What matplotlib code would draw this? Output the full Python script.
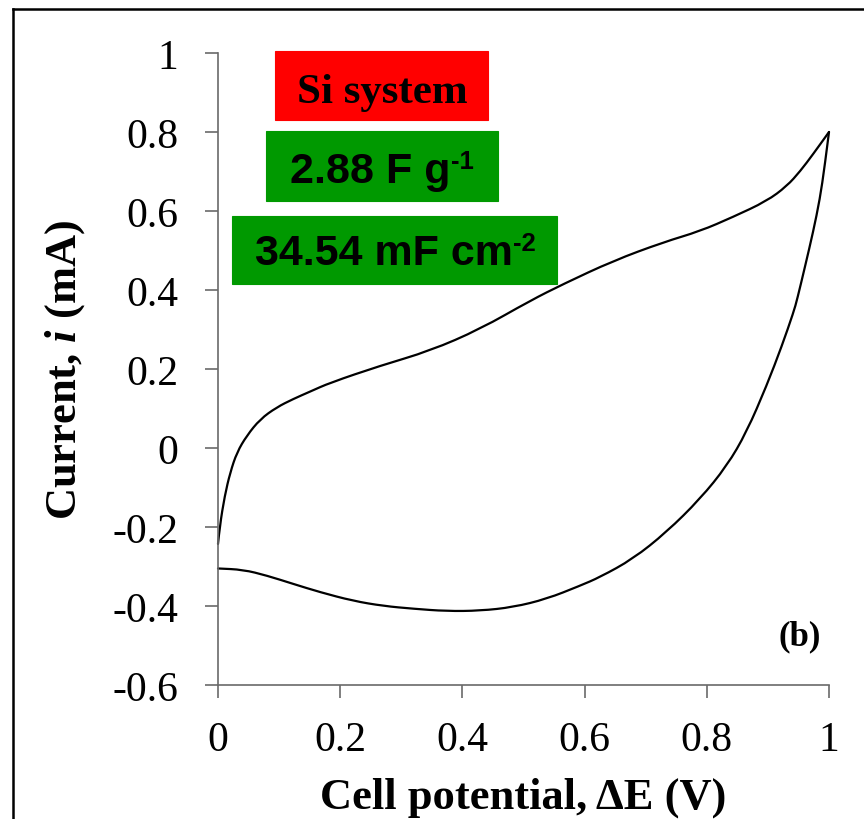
import matplotlib
matplotlib.use("Agg")
import matplotlib.pyplot as plt
from matplotlib.patches import Rectangle, PathPatch
from matplotlib.path import Path
from matplotlib.lines import Line2D

# ---- data ----
fwd_x = [0.0, 0.003, 0.011, 0.020, 0.031, 0.047, 0.069, 0.096, 0.123, 0.151,
         0.183, 0.265, 0.347, 0.429, 0.511, 0.565, 0.647, 0.729, 0.789, 0.843,
         0.898, 0.931, 0.953, 0.974, 1.0]
fwd_y = [-0.243, -0.197, -0.121, -0.062, -0.011, 0.031, 0.073, 0.103, 0.124, 0.143,
         0.165, 0.208, 0.246, 0.301, 0.373, 0.415, 0.474, 0.521, 0.549, 0.585,
         0.625, 0.663, 0.701, 0.744, 0.80]
rev_x = [1.0, 0.993, 0.985, 0.974, 0.961, 0.948, 0.942, 0.923, 0.898, 0.865,
         0.833, 0.789, 0.734, 0.679, 0.625, 0.592, 0.538, 0.483, 0.429, 0.374,
         0.320, 0.271, 0.221, 0.167, 0.123, 0.080, 0.041, 0.0]
rev_y = [0.80, 0.714, 0.630, 0.547, 0.461, 0.377, 0.344, 0.259, 0.158, 0.040,
         -0.045, -0.129, -0.213, -0.281, -0.327, -0.349, -0.382, -0.403, -0.412, -0.413,
         -0.407, -0.400, -0.387, -0.365, -0.344, -0.323, -0.308, -0.305]
x_ticks = [0, 0.2, 0.4, 0.6, 0.8, 1.0]
x_tick_labels = ["0", "0.2", "0.4", "0.6", "0.8", "1"]
y_ticks = [-0.6, -0.4, -0.2, 0, 0.2, 0.4, 0.6, 0.8, 1.0]
y_tick_labels = ["-0.6", "-0.4", "-0.2", "0", "0.2", "0.4", "0.6", "0.8", "1"]
title_text = "Si system"
cap_g = ("2.88 F g", "-1")
cap_cm = ("34.54 mF cm", "-2")
panel_label = "(b)"
xlabel = "Cell potential, \u0394E (V)"
ylabel = "Current, $\\it{i}$ (mA)"

plt.rcParams["mathtext.fontset"] = "custom"
plt.rcParams["mathtext.it"] = "Liberation Serif:italic:bold"
plt.rcParams["mathtext.bf"] = "Liberation Serif:italic:bold"
plt.rcParams["mathtext.rm"] = "Liberation Serif:bold"

W, H = 864, 820
fig = plt.figure(figsize=(W / 100, H / 100), dpi=100)
fig.patch.set_facecolor("white")

def fx(px):
    return px / W

def fy(py):
    return 1 - py / H

ax = fig.add_axes([fx(218), fy(686), fx(829) - fx(218), (686 - 54) / H])

def smooth_curve(xs, ys):
    # quadratic-Bezier rendering of the read points (smoothed line, as in the source chart)
    verts = [(xs[0], ys[0])]
    codes = [Path.MOVETO]
    n = len(xs)
    for i in range(1, n - 1):
        verts.append((xs[i], ys[i]))
        verts.append(((xs[i] + xs[i + 1]) / 2, (ys[i] + ys[i + 1]) / 2))
        codes += [Path.CURVE3, Path.CURVE3]
    verts.append((xs[-1], ys[-1]))
    codes.append(Path.LINETO)
    return Path(verts, codes)

for xs, ys in [(fwd_x, fwd_y), (rev_x, rev_y)]:
    ax.add_patch(PathPatch(smooth_curve(xs, ys), facecolor="none", edgecolor="black",
                           lw=1.6, joinstyle="round", capstyle="round", clip_on=False))

ax.set_xlim(0, 1)
ax.set_ylim(-0.6, 1)
ax.set_xticks(x_ticks)
ax.set_xticklabels(x_tick_labels)
ax.set_yticks(y_ticks)
ax.set_yticklabels(y_tick_labels)
for s in ["top", "right"]:
    ax.spines[s].set_visible(False)
spc = "#6a6a6a"
for s in ["left", "bottom"]:
    ax.spines[s].set_color(spc)
    ax.spines[s].set_linewidth(1.2)
ax.tick_params(axis="both", direction="out", length=9.5, width=1.2, color=spc,
               labelsize=30)
ax.tick_params(axis="y", pad=19)
ax.tick_params(axis="x", pad=16)
for lab in ax.get_xticklabels() + ax.get_yticklabels():
    lab.set_family("Liberation Serif")

ax.set_xlabel(xlabel, family="Liberation Serif", weight="bold", fontsize=32)
ax.xaxis.set_label_coords(0.5, -0.145)
ax.set_ylabel(ylabel, family="Liberation Serif", weight="bold", fontsize=32)
ax.yaxis.set_label_coords(-0.215, 0.5)

fig.text(fx(800), fy(637), panel_label, family="Liberation Serif", weight="bold",
         fontsize=25, ha="center", va="center")

# ---- annotation boxes ----
def box(x0, y0, x1, y1, color):
    fig.add_artist(Rectangle((fx(x0), fy(y1)), (x1 - x0) / W, (y1 - y0) / H,
                             transform=fig.transFigure, facecolor=color,
                             edgecolor=color, lw=0.8, zorder=3))

box(275, 52, 488, 121, "#ff0000")
box(266, 132, 498, 202, "#009900")
box(232, 217, 557, 285, "#009900")

fig.text(fx(382), fy(103), title_text, family="Liberation Serif", weight="bold",
         fontsize=31, ha="center", va="baseline", zorder=4)

renderer = fig.canvas.get_renderer()

def sup_text(cx, base_py, parts, size, sup_size, rise_px):
    main, sup = parts
    tm = fig.text(0, fy(base_py), main, family="Liberation Sans", weight="bold",
                  fontsize=size, ha="left", va="baseline", zorder=4)
    ts = fig.text(0, fy(base_py - rise_px), sup, family="Liberation Sans", weight="bold",
                  fontsize=sup_size, ha="left", va="baseline", zorder=4)
    wm = tm.get_window_extent(renderer).width
    ws = ts.get_window_extent(renderer).width
    left = cx - (wm + ws) / 2
    tm.set_x(fx(left))
    ts.set_x(fx(left + wm))

sup_text(382, 183, cap_g, 31, 18.5, 14)
sup_text(395, 265, cap_cm, 31, 18.5, 14)

# ---- outer frame (top and left edges visible) ----
fig.add_artist(Line2D([fx(13), fx(13)], [fy(10), 0], transform=fig.transFigure,
                      color="black", lw=1.8))
fig.add_artist(Line2D([fx(13), 1], [fy(10), fy(10)], transform=fig.transFigure,
                      color="black", lw=1.8))

fig.savefig("out.png", dpi=100, facecolor="white")
